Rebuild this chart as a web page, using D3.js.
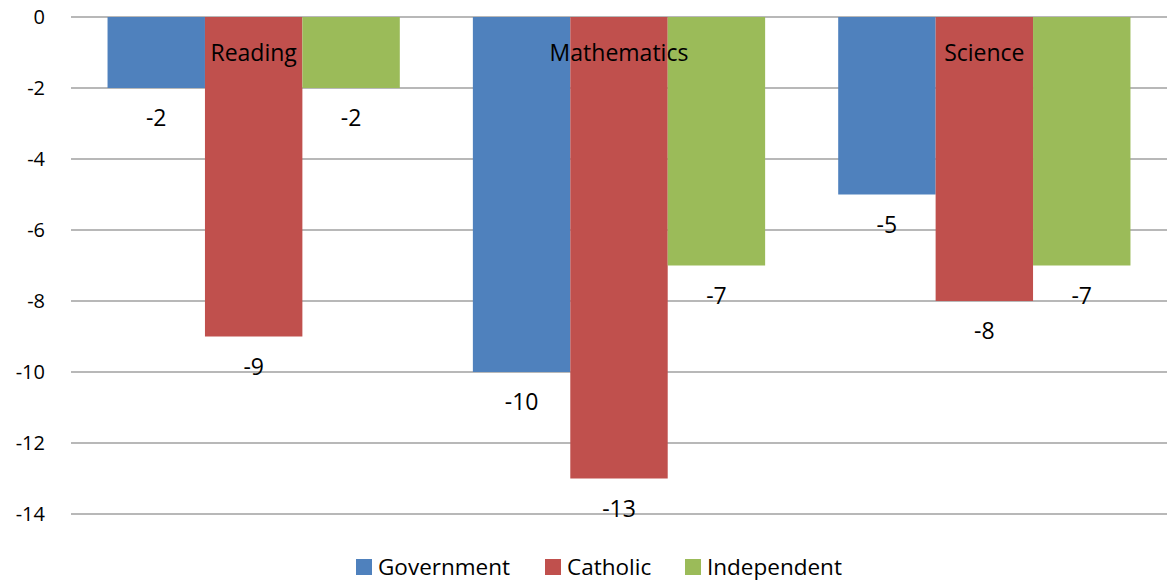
<!DOCTYPE html>
<html>
<head>
<meta charset="utf-8">
<script src="https://cdn.jsdelivr.net/npm/d3@7"></script>
<style>
  body { margin: 0; background: #fff; }
  text { font-family: "Open Sans", Lato, sans-serif; fill: #000; }
</style>
</head>
<body>
<svg id="chart"></svg>
<script>
var subjects = ['Reading', 'Mathematics', 'Science'];
var sectors = ['Government', 'Catholic', 'Independent'];
var government = [-2, -10, -5];
var catholic = [-9, -13, -8];
var independent = [-2, -7, -7];
var yTicks = [0, -2, -4, -6, -8, -10, -12, -14];
var colors = ['#4F81BD', '#C0504D', '#9BBB59'];

var width = 1167;
var height = 581;
var margin = {top: 17, right: 0, bottom: 67, left: 71};

var svg = d3.select('#chart')
    .attr('width', width)
    .attr('height', height);

var chart = svg.append('g')
    .attr('transform', `translate(${margin.left}, ${margin.top})`);

const inner_width = width - margin.left - margin.right;
const inner_height = height - margin.top - margin.bottom;

// 系列ごとの値
var series = [government, catholic, independent];

const xscale = d3.scaleBand()
      .domain(subjects)
      .range([0, inner_width])
      .paddingInner(0.2)
      .paddingOuter(0.1);

const xsub = d3.scaleBand()
      .domain(sectors)
      .range([0, xscale.bandwidth()]);

const yscale = d3.scaleLinear()
      .domain([0, -14])
      .range([0, inner_height]);

// gridlines
chart.selectAll('line.grid').data(yTicks).enter()
    .append('line')
    .attr('x1', 0)
    .attr('x2', inner_width)
    .attr('y1', d => yscale(d))
    .attr('y2', d => yscale(d))
    .attr('stroke', '#a0a0a0')
    .attr('stroke-width', 1.5);

// y axis labels (ハイフンのマイナス)
const yaxis = d3.axisLeft(yscale)
      .tickValues(yTicks)
      .tickFormat(d => String(d))
      .tickSize(0)
      .tickPadding(26);

const yaxis_group = chart.append('g').call(yaxis);
yaxis_group.select('.domain').remove();
yaxis_group.selectAll('text')
    .style('font-size', '20px')
    .attr('font-family', null);

// bars
var groups = chart.selectAll('g.subject').data(subjects).enter()
    .append('g')
    .attr('transform', d => `translate(${xscale(d)}, 0)`);

groups.selectAll('rect')
    .data((d, i) => sectors.map((s, j) => ({sector: s, value: series[j][i], color: colors[j]})))
    .enter()
    .append('rect')
    .attr('x', d => xsub(d.sector))
    .attr('y', yscale(0))
    .attr('width', xsub.bandwidth())
    .attr('height', d => yscale(d.value) - yscale(0))
    .attr('fill', d => d.color);

// value labels
groups.selectAll('text.val')
    .data((d, i) => sectors.map((s, j) => ({sector: s, value: series[j][i]})))
    .enter()
    .append('text')
    .attr('x', d => xsub(d.sector) + xsub.bandwidth() / 2)
    .attr('y', d => yscale(d.value) + 29)
    .attr('text-anchor', 'middle')
    .attr('dominant-baseline', 'central')
    .style('font-size', '23px')
    .text(d => d.value);

// category labels at top
groups.append('text')
    .attr('x', xscale.bandwidth() / 2)
    .attr('y', 35)
    .attr('text-anchor', 'middle')
    .attr('dominant-baseline', 'central')
    .style('font-size', '23px')
    .text(d => d);

// legend
var legendX = [356, 545, 685];
var legend = svg.selectAll('g.legend').data(sectors).enter()
    .append('g')
    .attr('transform', (d, i) => `translate(${legendX[i]}, 565)`);

legend.append('rect')
    .attr('x', 0)
    .attr('y', -6)
    .attr('width', 16)
    .attr('height', 16)
    .attr('fill', (d, i) => colors[i]);

legend.append('text')
    .attr('x', 22)
    .attr('y', 1)
    .attr('dominant-baseline', 'central')
    .style('font-size', '22.5px')
    .text(d => d);
</script>
</body>
</html>
